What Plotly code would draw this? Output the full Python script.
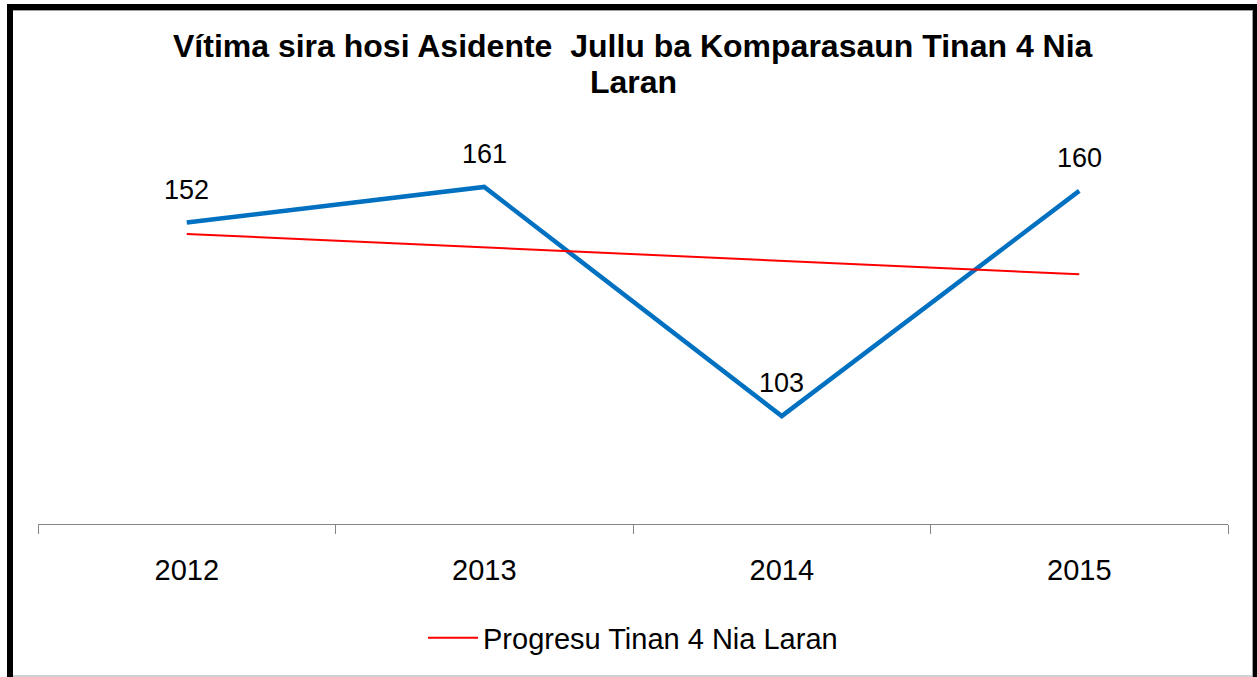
import plotly.graph_objects as go

years = ["2012", "2013", "2014", "2015"]
victims = [152, 161, 103, 160]
trend = [149.1, 145.7, 142.3, 138.9]
title_line1 = "Vítima sira hosi Asidente  Jullu ba Komparasaun Tinan 4 Nia"
title_line2 = "Laran"
legend_name = "Progresu Tinan 4 Nia Laran"

W, H = 1257, 677
L, R, T, B = 38, 1228, 100, 524  # plot area in pixels

def px(x):
    return (x - L) / (R - L)

def py(y):
    return (B - y) / (B - T)

xs = list(range(len(years)))
FONT = "Liberation Sans, Arial, sans-serif"

fig = go.Figure()
fig.add_trace(go.Scatter(x=xs, y=victims, mode="lines", line=dict(color="#0070C0", width=4.5),
                         showlegend=False, hoverinfo="skip"))
fig.add_trace(go.Scatter(x=xs, y=trend, mode="lines", line=dict(color="#FF0000", width=2),
                         name=legend_name, hoverinfo="skip"))

for x, v in zip(xs, victims):
    fig.add_annotation(x=x, y=v, text=str(v), showarrow=False, yshift=33,
                       font=dict(family=FONT, size=27, color="#000000"))

for txt, ycen in ((title_line1, 46), (title_line2, 82)):
    fig.add_annotation(xref="paper", yref="paper", x=px(633), y=py(ycen), text="<b>" + txt + "</b>",
                       showarrow=False, xanchor="center", yanchor="middle",
                       font=dict(family=FONT, size=32, color="#000000"))

shapes = []
black = dict(type="rect", xref="paper", yref="paper", fillcolor="#000000", line=dict(width=0), layer="above")
shapes.append(dict(black, x0=px(7), x1=px(1257), y0=py(4), y1=py(10)))
shapes.append(dict(black, x0=px(7), x1=px(13), y0=py(4), y1=py(677)))
shapes.append(dict(black, x0=px(1253), x1=px(1258), y0=py(4), y1=py(677)))
grey = dict(type="line", xref="paper", yref="paper", line=dict(color="#A0A0A0", width=1), layer="above")
shapes.append(dict(grey, x0=px(13), x1=px(1253), y0=py(10.5), y1=py(10.5)))
shapes.append(dict(grey, x0=px(1252.5), x1=px(1252.5), y0=py(10), y1=py(677)))
shapes.append(dict(grey, x0=px(13), x1=px(1253), y0=py(676), y1=py(676)))

fig.update_layout(
    width=W, height=H,
    margin=dict(l=L, r=W - R, t=T, b=H - B, pad=0),
    paper_bgcolor="white", plot_bgcolor="white",
    xaxis=dict(range=[-0.5, 3.5], tickmode="array", tickvals=xs, ticktext=years,
               showgrid=False, zeroline=False, showline=True, linecolor="#868686", linewidth=1,
               ticks="", tickfont=dict(family=FONT, size=29, color="#000000"), ticklabelstandoff=20,
               minor=dict(tickmode="array", tickvals=[-0.5, 0.5, 1.5, 2.5, 3.5], ticks="outside",
                          ticklen=9, tickcolor="#868686", tickwidth=1, showgrid=False),
               fixedrange=True),
    yaxis=dict(range=[75.7, 183.0], visible=False, fixedrange=True),
    legend=dict(orientation="h", x=0.5, xanchor="center", xref="paper", y=py(638), yanchor="middle",
                font=dict(family=FONT, size=29, color="#000000"), itemwidth=50),
    shapes=shapes,
    showlegend=True,
)

fig.write_html("out.html", config={"displayModeBar": False},
               post_script="document.body.style.margin='0';document.body.style.overflow='hidden';")
